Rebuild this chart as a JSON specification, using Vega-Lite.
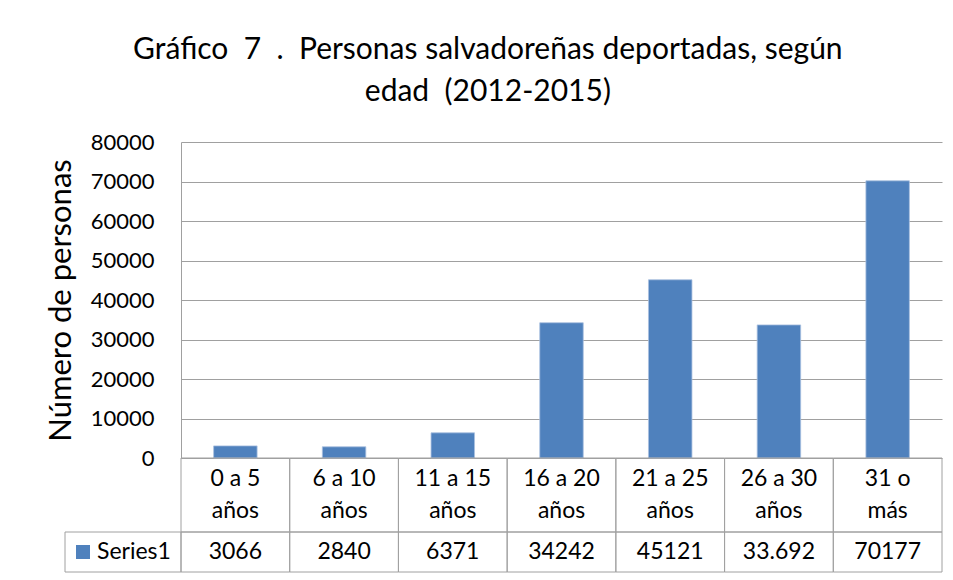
{
  "$schema": "https://vega.github.io/schema/vega-lite/v6.json",
  "background": "white",
  "padding": {"left": 45, "top": 35, "right": 13, "bottom": 5},
  "config": {
    "view": {"stroke": null},
    "font": "Lato"
  },
  "datasets": {
    "ages": [
      {"cat": "0 a 5\naños", "value": 3066, "label": "3066"},
      {"cat": "6 a 10\naños", "value": 2840, "label": "2840"},
      {"cat": "11 a 15\naños", "value": 6371, "label": "6371"},
      {"cat": "16 a 20\naños", "value": 34242, "label": "34242"},
      {"cat": "21 a 25\naños", "value": 45121, "label": "45121"},
      {"cat": "26 a 30\naños", "value": 33692, "label": "33.692"},
      {"cat": "31 o\nmás", "value": 70177, "label": "70177"}
    ],
    "legend": [{"name": "Series1"}]
  },
  "title": {
    "text": ["Gráfico\u00a0 7\u00a0 .\u00a0 Personas salvadoreñas deportadas, según", "edad\u00a0 (2012-2015)"],
    "fontSize": 30,
    "fontWeight": "normal",
    "font": "Lato",
    "color": "#000000",
    "lineHeight": 42,
    "anchor": "middle",
    "dx": -6,
    "offset": 24
  },
  "bounds": "flush",
  "spacing": 0,
  "vconcat": [
    {
      "width": 877,
      "height": 316,
      "data": {"name": "ages"},
      "mark": {"type": "bar", "color": "#4F81BD", "stroke": "#a9c0df", "strokeWidth": 0.8},
      "encoding": {
        "x": {
          "field": "cat",
          "type": "nominal",
          "sort": null,
          "scale": {"range": [116, 877], "paddingInner": 0.6, "paddingOuter": 0.3},
          "axis": null
        },
        "y": {
          "field": "value",
          "type": "quantitative",
          "scale": {"domain": [0, 80000], "nice": false},
          "axis": {
            "offset": -116,
            "values": [0, 10000, 20000, 30000, 40000, 50000, 60000, 70000, 80000],
            "format": "d",
            "title": "Número de personas",
            "titleFontSize": 31,
            "titleFontWeight": "normal",
            "titleColor": "#000000",
            "titlePadding": 13,
            "labelFontSize": 22,
            "labelColor": "#000000",
            "labelPadding": 27,
            "ticks": false,
            "domainColor": "#a0a0a0",
            "domainWidth": 1,
            "grid": true,
            "gridColor": "#a0a0a0",
            "gridWidth": 1,
            "gridOpacity": 1
          }
        }
      }
    },
    {
      "width": 877,
      "height": 74,
      "data": {"name": "ages"},
      "encoding": {
        "x": {
          "field": "cat",
          "type": "nominal",
          "sort": null,
          "scale": {"range": [116, 877], "paddingInner": 0, "paddingOuter": 0},
          "axis": null
        }
      },
      "layer": [
        {
          "mark": {"type": "rect", "fill": null, "stroke": "#a0a0a0", "strokeWidth": 1}
        },
        {
          "mark": {"type": "text", "fontSize": 23, "color": "#000000", "lineBreak": "\n", "lineHeight": 32, "baseline": "middle", "dy": -16},
          "encoding": {"text": {"field": "cat"}, "y": {"value": 37}}
        }
      ]
    },
    {
      "width": 877,
      "height": 40,
      "resolve": {"scale": {"x": "independent"}},
      "layer": [
        {
          "data": {"name": "ages"},
          "encoding": {
            "x": {
              "field": "cat",
              "type": "nominal",
              "sort": null,
              "scale": {"range": [116, 877], "paddingInner": 0, "paddingOuter": 0},
              "axis": null
            }
          },
          "layer": [
            {
              "mark": {"type": "rect", "fill": null, "stroke": "#a0a0a0", "strokeWidth": 1}
            },
            {
              "mark": {"type": "text", "fontSize": 23, "color": "#000000", "baseline": "middle"},
              "encoding": {"text": {"field": "label"}, "y": {"value": 20}}
            }
          ]
        },
        {
          "data": {"name": "legend"},
          "encoding": {
            "x": {
              "field": "name",
              "type": "nominal",
              "scale": {"range": [0, 116], "paddingInner": 0, "paddingOuter": 0},
              "axis": null
            }
          },
          "layer": [
            {
              "mark": {"type": "rect", "fill": null, "stroke": "#a0a0a0", "strokeWidth": 1}
            },
            {
              "mark": {"type": "point", "shape": "square", "color": "#4F81BD", "size": 196, "opacity": 1, "filled": true, "xOffset": -40},
              "encoding": {"y": {"value": 20}}
            },
            {
              "mark": {"type": "text", "fontSize": 23, "color": "#000000", "align": "left", "baseline": "middle", "xOffset": -26},
              "encoding": {"text": {"field": "name"}, "y": {"value": 20}}
            }
          ]
        }
      ]
    }
  ]
}
